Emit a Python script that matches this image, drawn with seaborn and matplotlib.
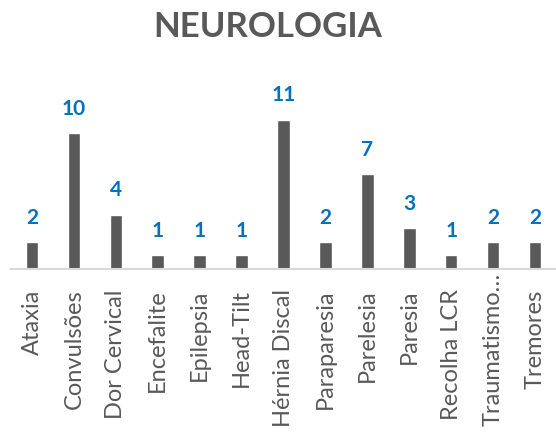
import matplotlib
matplotlib.use('Agg')
import matplotlib.pyplot as plt
import matplotlib.transforms as mtransforms
import seaborn as sns
import pandas as pd

categorias = ['Ataxia', 'Convulsões', 'Dor Cervical', 'Encefalite', 'Epilepsia',
              'Head-Tilt', 'Hérnia Discal', 'Paraparesia', 'Parelesia', 'Paresia',
              'Recolha LCR', 'Traumatismo…', 'Tremores']
casos = [2, 10, 4, 1, 1, 1, 11, 2, 7, 3, 1, 2, 2]

sns.set_style('white')
plt.rcParams['font.family'] = ['Lato', 'DejaVu Sans']

df = pd.DataFrame({'categoria': categorias, 'casos': casos})

fig = plt.figure(figsize=(5.56, 4.35), dpi=100)
ax = fig.add_axes([11 / 556, 1 - 270 / 435, 545 / 556, 163 / 435])

sns.barplot(data=df, x='categoria', y='casos', color='#595959', width=0.3,
            saturation=1, ax=ax)

for i, v in enumerate(casos):
    ax.annotate(str(v), (i, v), xytext=(0, 11), textcoords='offset points',
                ha='center', va='bottom', color='#0070C0', fontsize=15,
                fontweight='bold')

ax.set_ylim(0, 12)
ax.set_xlim(-0.5, 12.5)
ax.set_xlabel('')
ax.set_ylabel('')
ax.set_yticks([])
ax.tick_params(axis='x', length=0, pad=14, labelsize=17, labelcolor='#595959')
plt.setp(ax.get_xticklabels(), rotation=90)
for s in ['top', 'right', 'left']:
    ax.spines[s].set_visible(False)
ax.spines['bottom'].set_color('#D9D9D9')
ax.spines['bottom'].set_linewidth(1.5)

# the long label sits closer to the axis, as in the original
shift = mtransforms.ScaledTranslation(0, 17 / 100, fig.dpi_scale_trans)
for lab in ax.get_xticklabels():
    if lab.get_text().startswith('Traumatismo'):
        lab.set_transform(lab.get_transform() + shift)

fig.text(268 / 556, 1 - 27 / 435, 'NEUROLOGIA', ha='center', va='center',
         fontsize=25, fontweight='bold', color='#595959')

fig.savefig('out.png', dpi=100)
